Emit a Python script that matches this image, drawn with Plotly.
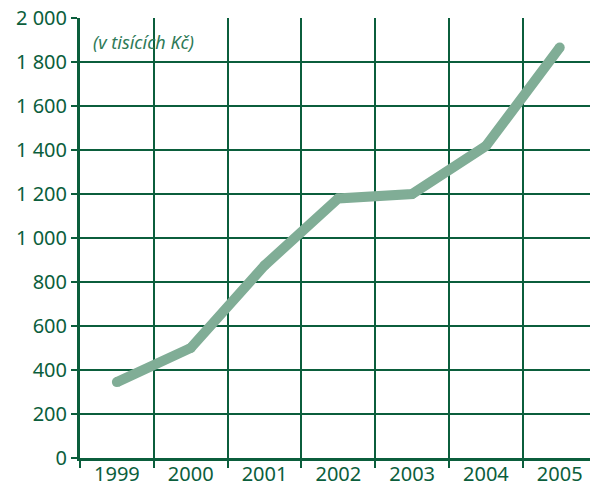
import plotly.graph_objects as go

years = ["1999", "2000", "2001", "2002", "2003", "2004", "2005"]
values = [345, 500, 875, 1180, 1200, 1418, 1866]
y_ticks = [0, 200, 400, 600, 800, 1000, 1200, 1400, 1600, 1800, 2000]

green = "#0b5e3c"
line_green = "#80ad96"
font = "Noto Sans, Open Sans, sans-serif"

fig = go.Figure()
fig.add_trace(go.Scatter(
    x=years, y=values, mode="lines+markers",
    line=dict(color=line_green, width=10),
    marker=dict(color=line_green, size=10, line=dict(width=0)),
    hoverinfo="skip",
))

fig.update_layout(
    width=590, height=487,
    margin=dict(l=80, r=0, t=18, b=29, autoexpand=False),
    paper_bgcolor="white", plot_bgcolor="white",
    showlegend=False,
    separators=", ",
    font=dict(family=font, color=green, size=20),
)
fig.update_xaxes(
    type="category",
    range=[-0.5, 6.41],
    tickson="boundaries",
    ticks="outside", ticklen=7, tickwidth=2, tickcolor=green,
    ticklabelstandoff=-4,
    showgrid=True, gridcolor=green, gridwidth=2,
    showline=True, linecolor=green, linewidth=3,
    tickfont=dict(size=20, color=green, family=font),
    zeroline=False, automargin=False,
)
fig.update_yaxes(
    range=[0, 2000],
    tickvals=y_ticks,
    tickformat=",d",
    ticks="outside", ticklen=6, tickwidth=2, tickcolor=green,
    showgrid=True, gridcolor=green, gridwidth=2,
    showline=True, linecolor=green, linewidth=3,
    tickfont=dict(size=20, color=green, family=font),
    zeroline=False, automargin=False,
)
fig.add_annotation(
    text="<i>(v tisících Kč)</i>",
    xref="paper", yref="paper", x=0.022, y=0.977,
    xanchor="left", yanchor="top", showarrow=False,
    font=dict(size=18, color="#2e7a58", family=font),
)

fig.write_html(
    "out.html",
    config={"displayModeBar": False, "staticPlot": True},
    post_script="document.body.style.margin='0';document.body.style.overflow='hidden';",
)
